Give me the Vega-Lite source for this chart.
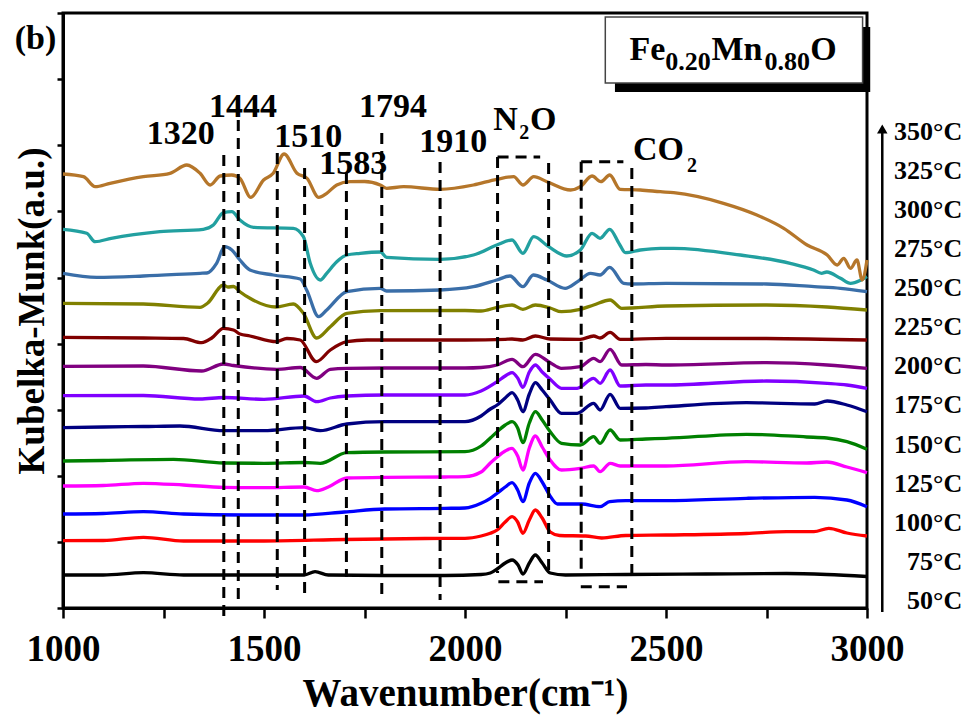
{
"$schema":"https://vega.github.io/schema/vega-lite/v6.json",
"width":804,"height":595,
"autosize":{"type":"none"},
"padding":{"left":63,"top":13,"right":102,"bottom":111},
"background":"white",
"config":{
 "view":{"stroke":"black","strokeWidth":3},
 "axis":{"domainColor":"black","domainWidth":3,"tickColor":"black","tickWidth":2.5,"labelColor":"black","titleColor":"black","labelFont":"Liberation Serif","titleFont":"Liberation Serif","labelFontWeight":"bold","titleFontWeight":"bold","grid":false},
 "text":{"font":"Liberation Serif","fontWeight":"bold","color":"black"}
},
"datasets":{
"spec":[
{"t":"50°C","x":1000,"y":33},{"t":"50°C","x":1100,"y":33},{"t":"50°C","x":1200,"y":35.3},{"t":"50°C","x":1300,"y":33},{"t":"50°C","x":1500,"y":33},{"t":"50°C","x":1600,"y":33},{"t":"50°C","x":1627,"y":36.3},{"t":"50°C","x":1660,"y":33},{"t":"50°C","x":1800,"y":32.5},{"t":"50°C","x":1950,"y":32.5},{"t":"50°C","x":2040,"y":33.5},{"t":"50°C","x":2063,"y":35},{"t":"50°C","x":2080,"y":39},{"t":"50°C","x":2100,"y":45},{"t":"50°C","x":2117,"y":48},{"t":"50°C","x":2132,"y":43},{"t":"50°C","x":2144,"y":34},{"t":"50°C","x":2160,"y":45},{"t":"50°C","x":2175,"y":53},{"t":"50°C","x":2192,"y":45},{"t":"50°C","x":2212,"y":35},{"t":"50°C","x":2250,"y":33},{"t":"50°C","x":2400,"y":33.5},{"t":"50°C","x":2600,"y":34},{"t":"50°C","x":2800,"y":34.5},{"t":"50°C","x":2900,"y":33.5},{"t":"50°C","x":3000,"y":31.5},
{"t":"75°C","x":1000,"y":67.3},{"t":"75°C","x":1100,"y":67.5},{"t":"75°C","x":1200,"y":70.7},{"t":"75°C","x":1300,"y":67},{"t":"75°C","x":1500,"y":67},{"t":"75°C","x":1700,"y":68.5},{"t":"75°C","x":1900,"y":69.5},{"t":"75°C","x":2000,"y":69.7},{"t":"75°C","x":2040,"y":72},{"t":"75°C","x":2063,"y":74.7},{"t":"75°C","x":2080,"y":78},{"t":"75°C","x":2100,"y":86},{"t":"75°C","x":2117,"y":91.3},{"t":"75°C","x":2131,"y":86},{"t":"75°C","x":2144,"y":74.7},{"t":"75°C","x":2160,"y":88},{"t":"75°C","x":2175,"y":98},{"t":"75°C","x":2192,"y":90},{"t":"75°C","x":2212,"y":76},{"t":"75°C","x":2235,"y":72.5},{"t":"75°C","x":2300,"y":72},{"t":"75°C","x":2340,"y":70},{"t":"75°C","x":2400,"y":72.5},{"t":"75°C","x":2500,"y":73},{"t":"75°C","x":2700,"y":74.5},{"t":"75°C","x":2800,"y":76.3},{"t":"75°C","x":2868,"y":76.3},{"t":"75°C","x":2905,"y":79.7},{"t":"75°C","x":2950,"y":75},{"t":"75°C","x":3000,"y":72},
{"t":"100°C","x":1000,"y":94},{"t":"100°C","x":1100,"y":94.5},{"t":"100°C","x":1200,"y":96.3},{"t":"100°C","x":1300,"y":94},{"t":"100°C","x":1450,"y":93},{"t":"100°C","x":1600,"y":93},{"t":"100°C","x":1700,"y":96},{"t":"100°C","x":1800,"y":99},{"t":"100°C","x":1950,"y":99.7},{"t":"100°C","x":2000,"y":100},{"t":"100°C","x":2040,"y":104.7},{"t":"100°C","x":2063,"y":109.7},{"t":"100°C","x":2080,"y":114.7},{"t":"100°C","x":2100,"y":121},{"t":"100°C","x":2117,"y":125.3},{"t":"100°C","x":2131,"y":118},{"t":"100°C","x":2144,"y":106.3},{"t":"100°C","x":2160,"y":125},{"t":"100°C","x":2175,"y":134.7},{"t":"100°C","x":2192,"y":126},{"t":"100°C","x":2210,"y":113},{"t":"100°C","x":2230,"y":104},{"t":"100°C","x":2290,"y":104},{"t":"100°C","x":2336,"y":101.3},{"t":"100°C","x":2360,"y":106.3},{"t":"100°C","x":2400,"y":107.3},{"t":"100°C","x":2500,"y":107.3},{"t":"100°C","x":2700,"y":109.7},{"t":"100°C","x":2870,"y":110.7},{"t":"100°C","x":2950,"y":108},{"t":"100°C","x":3000,"y":101.3},
{"t":"125°C","x":1000,"y":122},{"t":"125°C","x":1100,"y":122.5},{"t":"125°C","x":1200,"y":124.7},{"t":"125°C","x":1300,"y":123},{"t":"125°C","x":1400,"y":120.7},{"t":"125°C","x":1500,"y":120.3},{"t":"125°C","x":1600,"y":121},{"t":"125°C","x":1631,"y":117.3},{"t":"125°C","x":1660,"y":121},{"t":"125°C","x":1706,"y":130},{"t":"125°C","x":1800,"y":130.7},{"t":"125°C","x":1950,"y":131},{"t":"125°C","x":2000,"y":131.3},{"t":"125°C","x":2040,"y":136},{"t":"125°C","x":2063,"y":145},{"t":"125°C","x":2080,"y":151},{"t":"125°C","x":2100,"y":157},{"t":"125°C","x":2117,"y":159.7},{"t":"125°C","x":2131,"y":152},{"t":"125°C","x":2144,"y":138},{"t":"125°C","x":2160,"y":160},{"t":"125°C","x":2175,"y":172},{"t":"125°C","x":2192,"y":161},{"t":"125°C","x":2212,"y":148},{"t":"125°C","x":2240,"y":138},{"t":"125°C","x":2287,"y":139.7},{"t":"125°C","x":2320,"y":142},{"t":"125°C","x":2336,"y":136.3},{"t":"125°C","x":2361,"y":144.7},{"t":"125°C","x":2386,"y":142},{"t":"125°C","x":2500,"y":142},{"t":"125°C","x":2700,"y":146.3},{"t":"125°C","x":2850,"y":145},{"t":"125°C","x":2900,"y":146},{"t":"125°C","x":2950,"y":141},{"t":"125°C","x":3000,"y":135.3},
{"t":"150°C","x":1000,"y":147},{"t":"150°C","x":1100,"y":147.5},{"t":"150°C","x":1275,"y":148.7},{"t":"150°C","x":1400,"y":145},{"t":"150°C","x":1500,"y":144.7},{"t":"150°C","x":1600,"y":145.5},{"t":"150°C","x":1640,"y":144.7},{"t":"150°C","x":1706,"y":155.3},{"t":"150°C","x":1800,"y":156},{"t":"150°C","x":2000,"y":156.3},{"t":"150°C","x":2040,"y":162},{"t":"150°C","x":2063,"y":170},{"t":"150°C","x":2080,"y":176.3},{"t":"150°C","x":2100,"y":183},{"t":"150°C","x":2117,"y":186.3},{"t":"150°C","x":2131,"y":180},{"t":"150°C","x":2144,"y":165.3},{"t":"150°C","x":2160,"y":185},{"t":"150°C","x":2175,"y":196.3},{"t":"150°C","x":2192,"y":188},{"t":"150°C","x":2212,"y":176.3},{"t":"150°C","x":2240,"y":164.7},{"t":"150°C","x":2287,"y":163},{"t":"150°C","x":2320,"y":171.3},{"t":"150°C","x":2336,"y":164.7},{"t":"150°C","x":2361,"y":178},{"t":"150°C","x":2386,"y":168},{"t":"150°C","x":2450,"y":169},{"t":"150°C","x":2500,"y":169.7},{"t":"150°C","x":2700,"y":173.7},{"t":"150°C","x":2850,"y":171},{"t":"150°C","x":2900,"y":170},{"t":"150°C","x":2950,"y":166.3},{"t":"150°C","x":3000,"y":158.7},
{"t":"175°C","x":1000,"y":180.3},{"t":"175°C","x":1100,"y":181},{"t":"175°C","x":1200,"y":181.5},{"t":"175°C","x":1291,"y":182},{"t":"175°C","x":1400,"y":177.3},{"t":"175°C","x":1500,"y":177.3},{"t":"175°C","x":1600,"y":180.3},{"t":"175°C","x":1640,"y":177.3},{"t":"175°C","x":1706,"y":184},{"t":"175°C","x":1800,"y":186.3},{"t":"175°C","x":2000,"y":186.3},{"t":"175°C","x":2040,"y":192},{"t":"175°C","x":2063,"y":199},{"t":"175°C","x":2080,"y":203},{"t":"175°C","x":2100,"y":210},{"t":"175°C","x":2117,"y":215.3},{"t":"175°C","x":2131,"y":208},{"t":"175°C","x":2144,"y":196.3},{"t":"175°C","x":2160,"y":214},{"t":"175°C","x":2175,"y":225.3},{"t":"175°C","x":2192,"y":218},{"t":"175°C","x":2212,"y":208},{"t":"175°C","x":2240,"y":194.7},{"t":"175°C","x":2279,"y":194.7},{"t":"175°C","x":2320,"y":204.7},{"t":"175°C","x":2336,"y":198},{"t":"175°C","x":2361,"y":213.7},{"t":"175°C","x":2386,"y":199.7},{"t":"175°C","x":2450,"y":200},{"t":"175°C","x":2500,"y":201.3},{"t":"175°C","x":2700,"y":205.3},{"t":"175°C","x":2870,"y":204},{"t":"175°C","x":2901,"y":207},{"t":"175°C","x":2950,"y":203},{"t":"175°C","x":3000,"y":196.3},
{"t":"200°C","x":1000,"y":212.3},{"t":"200°C","x":1200,"y":212.5},{"t":"200°C","x":1341,"y":209},{"t":"200°C","x":1400,"y":210.5},{"t":"200°C","x":1500,"y":208.7},{"t":"200°C","x":1600,"y":212},{"t":"200°C","x":1631,"y":206.3},{"t":"200°C","x":1665,"y":210},{"t":"200°C","x":1706,"y":212},{"t":"200°C","x":1800,"y":213},{"t":"200°C","x":2000,"y":213},{"t":"200°C","x":2040,"y":217},{"t":"200°C","x":2080,"y":226.3},{"t":"200°C","x":2100,"y":232},{"t":"200°C","x":2117,"y":235.3},{"t":"200°C","x":2131,"y":230},{"t":"200°C","x":2144,"y":220.7},{"t":"200°C","x":2160,"y":236},{"t":"200°C","x":2175,"y":243},{"t":"200°C","x":2192,"y":236},{"t":"200°C","x":2212,"y":228.7},{"t":"200°C","x":2240,"y":219.7},{"t":"200°C","x":2279,"y":219.7},{"t":"200°C","x":2320,"y":229.7},{"t":"200°C","x":2336,"y":224.7},{"t":"200°C","x":2361,"y":238},{"t":"200°C","x":2386,"y":222},{"t":"200°C","x":2450,"y":223},{"t":"200°C","x":2500,"y":223},{"t":"200°C","x":2750,"y":227},{"t":"200°C","x":2901,"y":224.7},{"t":"200°C","x":2950,"y":223},{"t":"200°C","x":3000,"y":219.7},
{"t":"225°C","x":1000,"y":241.7},{"t":"225°C","x":1200,"y":242},{"t":"225°C","x":1345,"y":237},{"t":"225°C","x":1399,"y":244},{"t":"225°C","x":1424,"y":242.5},{"t":"225°C","x":1532,"y":238.7},{"t":"225°C","x":1590,"y":240.5},{"t":"225°C","x":1631,"y":229.7},{"t":"225°C","x":1665,"y":238.7},{"t":"225°C","x":1706,"y":239.7},{"t":"225°C","x":1800,"y":240},{"t":"225°C","x":2000,"y":240},{"t":"225°C","x":2040,"y":240.5},{"t":"225°C","x":2080,"y":243},{"t":"225°C","x":2117,"y":248.7},{"t":"225°C","x":2144,"y":241.3},{"t":"225°C","x":2175,"y":253.7},{"t":"225°C","x":2212,"y":245.3},{"t":"225°C","x":2240,"y":239.7},{"t":"225°C","x":2287,"y":241.3},{"t":"225°C","x":2320,"y":249.7},{"t":"225°C","x":2336,"y":246.3},{"t":"225°C","x":2361,"y":258.7},{"t":"225°C","x":2390,"y":243},{"t":"225°C","x":2450,"y":243.5},{"t":"225°C","x":2500,"y":243},{"t":"225°C","x":2750,"y":245.3},{"t":"225°C","x":2901,"y":243},{"t":"225°C","x":3000,"y":239.7},
{"t":"250°C","x":1000,"y":270.7},{"t":"250°C","x":1200,"y":270},{"t":"250°C","x":1300,"y":269.5},{"t":"250°C","x":1345,"y":265.3},{"t":"250°C","x":1370,"y":270},{"t":"250°C","x":1399,"y":279.7},{"t":"250°C","x":1424,"y":278},{"t":"250°C","x":1440,"y":274},{"t":"250°C","x":1465,"y":272},{"t":"250°C","x":1531,"y":266.3},{"t":"250°C","x":1557,"y":269.5},{"t":"250°C","x":1590,"y":268},{"t":"250°C","x":1630,"y":246.3},{"t":"250°C","x":1665,"y":258},{"t":"250°C","x":1706,"y":266.3},{"t":"250°C","x":1756,"y":268},{"t":"250°C","x":2000,"y":268},{"t":"250°C","x":2100,"y":268.7},{"t":"250°C","x":2117,"y":269},{"t":"250°C","x":2144,"y":268},{"t":"250°C","x":2175,"y":272},{"t":"250°C","x":2212,"y":269},{"t":"250°C","x":2287,"y":268.7},{"t":"250°C","x":2320,"y":272},{"t":"250°C","x":2336,"y":270},{"t":"250°C","x":2361,"y":275.7},{"t":"250°C","x":2386,"y":268.7},{"t":"250°C","x":2500,"y":269.7},{"t":"250°C","x":2750,"y":269.5},{"t":"250°C","x":3000,"y":268},
{"t":"275°C","x":1000,"y":304.7},{"t":"275°C","x":1200,"y":304},{"t":"275°C","x":1341,"y":300.7},{"t":"275°C","x":1360,"y":305},{"t":"275°C","x":1399,"y":323},{"t":"275°C","x":1410,"y":321},{"t":"275°C","x":1424,"y":321.5},{"t":"275°C","x":1440,"y":316.3},{"t":"275°C","x":1465,"y":309.7},{"t":"275°C","x":1530,"y":301},{"t":"275°C","x":1573,"y":304},{"t":"275°C","x":1598,"y":294.7},{"t":"275°C","x":1631,"y":270},{"t":"275°C","x":1665,"y":281.3},{"t":"275°C","x":1706,"y":294.7},{"t":"275°C","x":1789,"y":297.3},{"t":"275°C","x":2000,"y":297.5},{"t":"275°C","x":2040,"y":297},{"t":"275°C","x":2080,"y":300.7},{"t":"275°C","x":2117,"y":303},{"t":"275°C","x":2144,"y":298.7},{"t":"275°C","x":2175,"y":303},{"t":"275°C","x":2212,"y":300},{"t":"275°C","x":2240,"y":296.3},{"t":"275°C","x":2287,"y":298.7},{"t":"275°C","x":2320,"y":303},{"t":"275°C","x":2361,"y":308},{"t":"275°C","x":2390,"y":299.7},{"t":"275°C","x":2500,"y":302},{"t":"275°C","x":2750,"y":303},{"t":"275°C","x":2901,"y":301},{"t":"275°C","x":3000,"y":298},
{"t":"300°C","x":1000,"y":334.7},{"t":"300°C","x":1084,"y":330.7},{"t":"300°C","x":1200,"y":332},{"t":"300°C","x":1341,"y":334.7},{"t":"300°C","x":1358,"y":335},{"t":"300°C","x":1382,"y":344.7},{"t":"300°C","x":1402,"y":361.3},{"t":"300°C","x":1420,"y":358},{"t":"300°C","x":1440,"y":348},{"t":"300°C","x":1465,"y":338},{"t":"300°C","x":1523,"y":333},{"t":"300°C","x":1590,"y":329},{"t":"300°C","x":1606,"y":318},{"t":"300°C","x":1636,"y":291.3},{"t":"300°C","x":1656,"y":298},{"t":"300°C","x":1706,"y":316.3},{"t":"300°C","x":1789,"y":319.7},{"t":"300°C","x":1805,"y":317},{"t":"300°C","x":1938,"y":318},{"t":"300°C","x":2021,"y":321.3},{"t":"300°C","x":2079,"y":328},{"t":"300°C","x":2112,"y":332},{"t":"300°C","x":2144,"y":321.3},{"t":"300°C","x":2170,"y":333},{"t":"300°C","x":2204,"y":328},{"t":"300°C","x":2249,"y":319.7},{"t":"300°C","x":2280,"y":326.3},{"t":"300°C","x":2312,"y":334.7},{"t":"300°C","x":2336,"y":333},{"t":"300°C","x":2360,"y":340.7},{"t":"300°C","x":2395,"y":324.7},{"t":"300°C","x":2415,"y":324},{"t":"300°C","x":2500,"y":324.7},{"t":"300°C","x":2750,"y":324},{"t":"300°C","x":2869,"y":321.3},{"t":"300°C","x":2934,"y":319.7},{"t":"300°C","x":3000,"y":316.3},
{"t":"325°C","x":1000,"y":378.7},{"t":"325°C","x":1059,"y":374.7},{"t":"325°C","x":1080,"y":366.3},{"t":"325°C","x":1120,"y":369.7},{"t":"325°C","x":1241,"y":376.3},{"t":"325°C","x":1349,"y":378.7},{"t":"325°C","x":1374,"y":383},{"t":"325°C","x":1399,"y":395.3},{"t":"325°C","x":1420,"y":396.3},{"t":"325°C","x":1440,"y":388},{"t":"325°C","x":1474,"y":380.7},{"t":"325°C","x":1573,"y":379.7},{"t":"325°C","x":1598,"y":371.3},{"t":"325°C","x":1615,"y":344.7},{"t":"325°C","x":1640,"y":328},{"t":"325°C","x":1656,"y":334.7},{"t":"325°C","x":1681,"y":346.3},{"t":"325°C","x":1706,"y":353},{"t":"325°C","x":1739,"y":354.7},{"t":"325°C","x":1790,"y":356},{"t":"325°C","x":1805,"y":350.7},{"t":"325°C","x":1938,"y":348.7},{"t":"325°C","x":2021,"y":353},{"t":"325°C","x":2079,"y":363},{"t":"325°C","x":2117,"y":368},{"t":"325°C","x":2144,"y":354.7},{"t":"325°C","x":2171,"y":371.3},{"t":"325°C","x":2208,"y":361.3},{"t":"325°C","x":2253,"y":352},{"t":"325°C","x":2287,"y":358},{"t":"325°C","x":2316,"y":374.7},{"t":"325°C","x":2336,"y":369.7},{"t":"325°C","x":2360,"y":378.7},{"t":"325°C","x":2383,"y":364.7},{"t":"325°C","x":2399,"y":355.3},{"t":"325°C","x":2436,"y":358},{"t":"325°C","x":2486,"y":359.7},{"t":"325°C","x":2519,"y":359.7},{"t":"325°C","x":2685,"y":353},{"t":"325°C","x":2809,"y":344.7},{"t":"325°C","x":2867,"y":338},{"t":"325°C","x":2887,"y":334.7},{"t":"325°C","x":2900,"y":336},{"t":"325°C","x":2934,"y":329.7},{"t":"325°C","x":2959,"y":324.7},{"t":"325°C","x":2985,"y":328},{"t":"325°C","x":3000,"y":331.3},
{"t":"350°C","x":1000,"y":434},{"t":"350°C","x":1051,"y":431.3},{"t":"350°C","x":1080,"y":421.3},{"t":"350°C","x":1117,"y":424.7},{"t":"350°C","x":1200,"y":431.3},{"t":"350°C","x":1266,"y":434.7},{"t":"350°C","x":1308,"y":443},{"t":"350°C","x":1341,"y":434.7},{"t":"350°C","x":1366,"y":423},{"t":"350°C","x":1391,"y":432},{"t":"350°C","x":1420,"y":433},{"t":"350°C","x":1440,"y":429.7},{"t":"350°C","x":1467,"y":410.7},{"t":"350°C","x":1499,"y":428},{"t":"350°C","x":1523,"y":434.7},{"t":"350°C","x":1550,"y":454},{"t":"350°C","x":1582,"y":434.7},{"t":"350°C","x":1607,"y":429.7},{"t":"350°C","x":1636,"y":410.7},{"t":"350°C","x":1656,"y":414.7},{"t":"350°C","x":1681,"y":423},{"t":"350°C","x":1714,"y":426.3},{"t":"350°C","x":1750,"y":426.5},{"t":"350°C","x":1789,"y":423},{"t":"350°C","x":1805,"y":419.7},{"t":"350°C","x":1847,"y":421.3},{"t":"350°C","x":1938,"y":418.7},{"t":"350°C","x":2021,"y":423},{"t":"350°C","x":2079,"y":428.7},{"t":"350°C","x":2121,"y":431.3},{"t":"350°C","x":2144,"y":423},{"t":"350°C","x":2171,"y":431.3},{"t":"350°C","x":2204,"y":426.3},{"t":"350°C","x":2263,"y":418},{"t":"350°C","x":2287,"y":421.3},{"t":"350°C","x":2316,"y":432},{"t":"350°C","x":2338,"y":426.3},{"t":"350°C","x":2360,"y":433},{"t":"350°C","x":2386,"y":418.7},{"t":"350°C","x":2436,"y":418},{"t":"350°C","x":2486,"y":416.3},{"t":"350°C","x":2519,"y":415.3},{"t":"350°C","x":2643,"y":404.7},{"t":"350°C","x":2726,"y":393},{"t":"350°C","x":2793,"y":379.7},{"t":"350°C","x":2851,"y":363},{"t":"350°C","x":2901,"y":353},{"t":"350°C","x":2926,"y":343},{"t":"350°C","x":2942,"y":349.7},{"t":"350°C","x":2959,"y":339.7},{"t":"350°C","x":2975,"y":348},{"t":"350°C","x":2988,"y":328},{"t":"350°C","x":3000,"y":348}
],
"dash":[
{"x":1400,"x2":1400,"y":453,"y2":-14},
{"x":1436,"x2":1436,"y":488,"y2":5},
{"x":1533,"x2":1533,"y":455,"y2":18},
{"x":1601,"x2":1601,"y":440,"y2":13},
{"x":1705,"x2":1705,"y":435,"y2":31},
{"x":1793,"x2":1793,"y":475,"y2":8},
{"x":1938,"x2":1938,"y":446,"y2":8},
{"x":2081,"x2":2081,"y":451,"y2":35},
{"x":2081,"x2":2187,"y":451,"y2":451},
{"x":2208,"x2":2208,"y":445,"y2":38},
{"x":2083,"x2":2194,"y":26.3,"y2":26.3},
{"x":2289,"x2":2289,"y":446.3,"y2":36},
{"x":2289,"x2":2394,"y":446.3,"y2":446.3},
{"x":2415,"x2":2415,"y":440,"y2":33},
{"x":2288,"x2":2403,"y":21.3,"y2":21.3}
],
"peaks":[
{"x":1293,"y":464,"text":"1320"},{"x":1448,"y":491,"text":"1444"},{"x":1610,"y":461.3,"text":"1510"},{"x":1722,"y":434,"text":"1583"},{"x":1821,"y":491,"text":"1794"},{"x":1971,"y":456.3,"text":"1910"}
],
"notes":[
{"x":2070,"y":478,"text":"N","fs":34},{"x":2135,"y":469,"text":"2","fs":20},{"x":2162,"y":478,"text":"O","fs":34},
{"x":2418,"y":448,"text":"CO","fs":34},{"x":2552,"y":436.3,"text":"2","fs":20},
{"x":2409,"y":548,"text":"Fe","fs":34},{"x":2498,"y":538,"text":"0.20","fs":26},{"x":2613,"y":548,"text":"Mn","fs":34},{"x":2745,"y":538,"text":"0.80","fs":26},{"x":2859,"y":548,"text":"O","fs":34},
{"x":880,"y":559,"text":"(b)","fs":34}
],
"temps":[
{"x":3237,"y":476.3,"text":"350°C"},{"x":3237,"y":437.2,"text":"325°C"},{"x":3237,"y":398.1,"text":"300°C"},{"x":3237,"y":359,"text":"275°C"},{"x":3237,"y":319.9,"text":"250°C"},{"x":3237,"y":280.8,"text":"225°C"},{"x":3237,"y":241.7,"text":"200°C"},{"x":3237,"y":202.6,"text":"175°C"},{"x":3237,"y":163.5,"text":"150°C"},{"x":3237,"y":124.4,"text":"125°C"},{"x":3237,"y":85.3,"text":"100°C"},{"x":3237,"y":46.2,"text":"75°C"},{"x":3237,"y":7.1,"text":"50°C"}
]
},
"layer":[
{"data":{"name":"spec"},
 "mark":{"type":"line","strokeWidth":3.3,"interpolate":"monotone"},
 "encoding":{
  "x":{"field":"x","type":"quantitative","scale":{"domain":[1000,3000],"nice":false,"zero":false},
   "axis":{"title":"Wavenumber(cm⁻¹)","values":[1000,1250,1500,1750,2000,2250,2500,2750,3000],"format":"d","labelExpr":"datum.value % 500 === 0 ? datum.label : ''","labelFontSize":37,"titleFontSize":39,"tickSize":10,"labelPadding":13,"titlePadding":7,"labelFlush":false}},
  "y":{"field":"y","type":"quantitative","scale":{"domain":[0,595],"nice":false,"zero":false},
   "axis":{"title":"Kubelka-Munk(a.u.)","values":[0,66,132,198,264,330,397,463,529,595],"labels":false,"tickSize":6,"titleFontSize":37,"titlePadding":4}},
  "color":{"field":"t","type":"nominal","legend":null,
   "scale":{"domain":["50°C","75°C","100°C","125°C","150°C","175°C","200°C","225°C","250°C","275°C","300°C","325°C","350°C"],
    "range":["#000000","#ff0000","#0000ff","#ff00ff","#008000","#000080","#8000ff","#800080","#800000","#808000","#3a6ea8","#22a0a0","#b5762a"]}}
 }},
{"data":{"name":"dash"},
 "mark":{"type":"rule","strokeDash":[11,7],"strokeWidth":3,"color":"black"},
 "encoding":{
  "x":{"field":"x","type":"quantitative"},
  "x2":{"field":"x2"},
  "y":{"field":"y","type":"quantitative"},
  "y2":{"field":"y2"}
 }},
{"data":{"values":[{"x":2373,"x2":3008,"y":516,"y2":581}]},
 "mark":{"type":"rect","fill":"black"},
 "encoding":{"x":{"field":"x","type":"quantitative"},"x2":{"field":"x2"},"y":{"field":"y","type":"quantitative"},"y2":{"field":"y2"}}},
{"data":{"values":[{"x":2349,"x2":2989,"y":525,"y2":591}]},
 "mark":{"type":"rect","fill":"white","stroke":"#444444","strokeWidth":1.5},
 "encoding":{"x":{"field":"x","type":"quantitative"},"x2":{"field":"x2"},"y":{"field":"y","type":"quantitative"},"y2":{"field":"y2"}}},
{"data":{"name":"peaks"},
 "mark":{"type":"text","align":"center","baseline":"alphabetic","fontSize":34},
 "encoding":{"x":{"field":"x","type":"quantitative"},"y":{"field":"y","type":"quantitative"},"text":{"field":"text"}}},
{"data":{"name":"notes"},
 "mark":{"type":"text","align":"left","baseline":"alphabetic"},
 "encoding":{"x":{"field":"x","type":"quantitative"},"y":{"field":"y","type":"quantitative"},"text":{"field":"text"},"size":{"field":"fs","type":"quantitative","scale":null}}},
{"data":{"name":"temps"},
 "mark":{"type":"text","align":"right","baseline":"middle","fontSize":26},
 "encoding":{"x":{"field":"x","type":"quantitative"},"y":{"field":"y","type":"quantitative"},"text":{"field":"text"}}},
{"data":{"values":[{"x":3038,"y":-4,"y2":478}]},
 "mark":{"type":"rule","strokeWidth":2.5,"color":"black"},
 "encoding":{"x":{"field":"x","type":"quantitative"},"y":{"field":"y","type":"quantitative"},"y2":{"field":"y2"}}},
{"data":{"values":[{"x":3038,"y":479}]},
 "mark":{"type":"point","shape":"triangle-up","filled":true,"color":"black","size":110,"opacity":1},
 "encoding":{"x":{"field":"x","type":"quantitative"},"y":{"field":"y","type":"quantitative"}}}
]
}
